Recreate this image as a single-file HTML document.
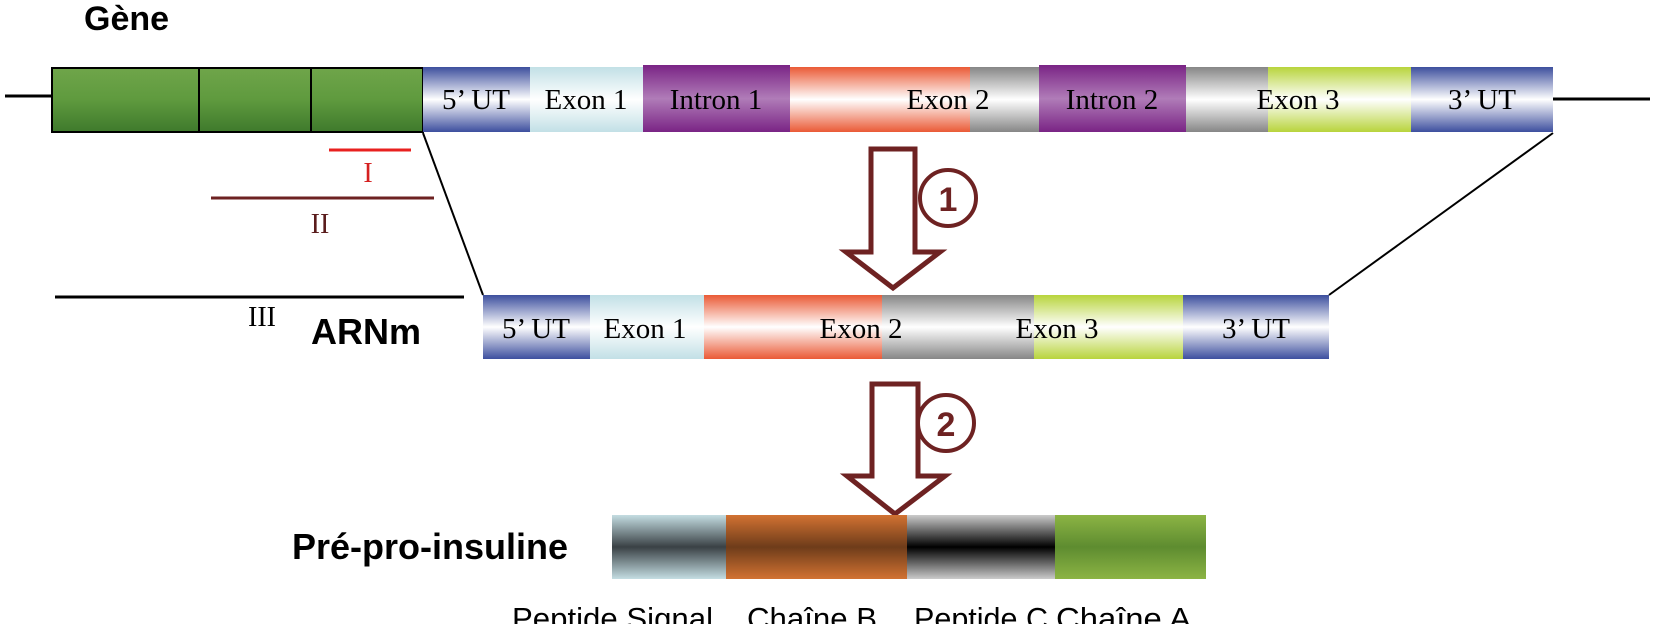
<!DOCTYPE html>
<html><head><meta charset="utf-8"><style>html,body{margin:0;padding:0;background:#fff}svg{display:block}</style></head>
<body>
<svg width="1680" height="624" viewBox="0 0 1680 624" xmlns="http://www.w3.org/2000/svg">
<defs>
<linearGradient id="gGreen" x1="0" y1="0" x2="0" y2="1"><stop offset="0" stop-color="#6fa54a"/><stop offset="0.5" stop-color="#5f9a3e"/><stop offset="1" stop-color="#3f7a2c"/></linearGradient>
<linearGradient id="gBlue" x1="0" y1="0" x2="0" y2="1"><stop offset="0" stop-color="#3d4f9e"/><stop offset="0.5" stop-color="#ffffff"/><stop offset="1" stop-color="#3d4f9e"/></linearGradient>
<linearGradient id="gLb" x1="0" y1="0" x2="0" y2="1"><stop offset="0" stop-color="#c2e0e6"/><stop offset="0.5" stop-color="#ffffff"/><stop offset="1" stop-color="#c2e0e6"/></linearGradient>
<linearGradient id="gPur" x1="0" y1="0" x2="0" y2="1"><stop offset="0" stop-color="#7a2485"/><stop offset="0.5" stop-color="#b07cb8"/><stop offset="1" stop-color="#7a2485"/></linearGradient>
<linearGradient id="gOr" x1="0" y1="0" x2="0" y2="1"><stop offset="0" stop-color="#ea5a36"/><stop offset="0.5" stop-color="#ffffff"/><stop offset="1" stop-color="#ea5a36"/></linearGradient>
<linearGradient id="gGr" x1="0" y1="0" x2="0" y2="1"><stop offset="0" stop-color="#868686"/><stop offset="0.5" stop-color="#ffffff"/><stop offset="1" stop-color="#868686"/></linearGradient>
<linearGradient id="gLi" x1="0" y1="0" x2="0" y2="1"><stop offset="0" stop-color="#b8d43c"/><stop offset="0.5" stop-color="#ffffff"/><stop offset="1" stop-color="#b8d43c"/></linearGradient>
<linearGradient id="pS" x1="0" y1="0" x2="0" y2="1"><stop offset="0" stop-color="#c4dde2"/><stop offset="0.5" stop-color="#3a4145"/><stop offset="1" stop-color="#c4dde2"/></linearGradient>
<linearGradient id="pB" x1="0" y1="0" x2="0" y2="1"><stop offset="0" stop-color="#d27232"/><stop offset="0.5" stop-color="#6e3c1a"/><stop offset="1" stop-color="#d27232"/></linearGradient>
<linearGradient id="pC" x1="0" y1="0" x2="0" y2="1"><stop offset="0" stop-color="#cbcbcb"/><stop offset="0.5" stop-color="#000000"/><stop offset="1" stop-color="#cbcbcb"/></linearGradient>
<linearGradient id="pA" x1="0" y1="0" x2="0" y2="1"><stop offset="0" stop-color="#8cb444"/><stop offset="0.5" stop-color="#5e8c30"/><stop offset="1" stop-color="#8cb444"/></linearGradient>
</defs>

<g font-family="Liberation Sans, sans-serif" font-weight="bold" fill="#000">
<text x="84" y="30" font-size="34">Gène</text>
<text x="311" y="344" font-size="36">ARNm</text>
<text x="292" y="559" font-size="36">Pré-pro-insuline</text>
</g>

<!-- gene -->
<line x1="5" y1="96" x2="52" y2="96" stroke="#000" stroke-width="3"/>
<line x1="1553" y1="99" x2="1650" y2="99" stroke="#000" stroke-width="3"/>
<rect x="52" y="68" width="371" height="64" fill="url(#gGreen)" stroke="#000" stroke-width="2"/>
<line x1="199" y1="68" x2="199" y2="132" stroke="#000" stroke-width="2"/>
<line x1="311" y1="68" x2="311" y2="132" stroke="#000" stroke-width="2"/>
<rect x="423" y="67" width="107" height="65" fill="url(#gBlue)"/>
<rect x="530" y="67" width="113" height="65" fill="url(#gLb)"/>
<rect x="643" y="65" width="147" height="67" fill="url(#gPur)"/>
<rect x="790" y="67" width="180" height="65" fill="url(#gOr)"/>
<rect x="970" y="67" width="69" height="65" fill="url(#gGr)"/>
<rect x="1039" y="65" width="147" height="67" fill="url(#gPur)"/>
<rect x="1186" y="67" width="82" height="65" fill="url(#gGr)"/>
<rect x="1268" y="67" width="143" height="65" fill="url(#gLi)"/>
<rect x="1411" y="67" width="142" height="65" fill="url(#gBlue)"/>
<g font-family="Liberation Serif, serif" font-size="29" fill="#000" text-anchor="middle">
<text x="476" y="109">5’ UT</text>
<text x="586" y="109">Exon 1</text>
<text x="716" y="109">Intron 1</text>
<text x="948" y="109">Exon 2</text>
<text x="1112" y="109">Intron 2</text>
<text x="1298" y="109">Exon 3</text>
<text x="1482" y="109">3’ UT</text>
</g>

<!-- I II III -->
<line x1="329" y1="150" x2="411" y2="150" stroke="#e8211f" stroke-width="3"/>
<text x="368" y="182" font-family="Liberation Serif, serif" font-size="28" fill="#d52020" text-anchor="middle">I</text>
<line x1="211" y1="198" x2="434" y2="198" stroke="#6d2222" stroke-width="3"/>
<text x="320" y="233" font-family="Liberation Serif, serif" font-size="28" fill="#5a1c1c" text-anchor="middle">II</text>
<line x1="55" y1="297" x2="464" y2="297" stroke="#000" stroke-width="3"/>
<text x="262" y="326" font-family="Liberation Serif, serif" font-size="28" fill="#000" text-anchor="middle">III</text>

<line x1="423" y1="133" x2="483" y2="295" stroke="#000" stroke-width="2"/>
<line x1="1553" y1="133" x2="1329" y2="295" stroke="#000" stroke-width="2"/>

<!-- mRNA -->
<rect x="483" y="295" width="107" height="64" fill="url(#gBlue)"/>
<rect x="590" y="295" width="114" height="64" fill="url(#gLb)"/>
<rect x="704" y="295" width="178" height="64" fill="url(#gOr)"/>
<rect x="882" y="295" width="152" height="64" fill="url(#gGr)"/>
<rect x="1034" y="295" width="149" height="64" fill="url(#gLi)"/>
<rect x="1183" y="295" width="146" height="64" fill="url(#gBlue)"/>
<g font-family="Liberation Serif, serif" font-size="29" fill="#000" text-anchor="middle">
<text x="536" y="338">5’ UT</text>
<text x="645" y="338">Exon 1</text>
<text x="861" y="338">Exon 2</text>
<text x="1057" y="338">Exon 3</text>
<text x="1256" y="338">3’ UT</text>
</g>

<!-- arrows -->
<polygon points="871,149 915,149 915,252 940,252 893,288 846,252 871,252" fill="#fff" stroke="#6e2222" stroke-width="5" stroke-linejoin="miter"/>
<circle cx="948" cy="198" r="28" fill="#fff" stroke="#6e2222" stroke-width="4"/>
<text x="948" y="211" font-family="Liberation Sans, sans-serif" font-weight="bold" font-size="34" fill="#6e2222" text-anchor="middle">1</text>
<polygon points="872,384 918,384 918,476 945,476 895,514 847,476 872,476" fill="#fff" stroke="#6e2222" stroke-width="5"/>
<circle cx="946" cy="423" r="28" fill="#fff" stroke="#6e2222" stroke-width="4"/>
<text x="946" y="436" font-family="Liberation Sans, sans-serif" font-weight="bold" font-size="34" fill="#6e2222" text-anchor="middle">2</text>

<!-- pre-pro-insulin -->
<rect x="612" y="515" width="114" height="64" fill="url(#pS)"/>
<rect x="726" y="515" width="181" height="64" fill="url(#pB)"/>
<rect x="907" y="515" width="148" height="64" fill="url(#pC)"/>
<rect x="1055" y="515" width="151" height="64" fill="url(#pA)"/>
<g font-family="Liberation Sans, sans-serif" font-size="31" fill="#000">
<text x="512" y="629" textLength="201" lengthAdjust="spacingAndGlyphs">Peptide Signal</text>
<text x="747" y="629" textLength="130" lengthAdjust="spacingAndGlyphs">Chaîne B</text>
<text x="914" y="629" textLength="134" lengthAdjust="spacingAndGlyphs">Peptide C</text>
<text x="1056" y="629" textLength="135" lengthAdjust="spacingAndGlyphs">Chaîne A</text>
</g>
</svg>
</body></html>
